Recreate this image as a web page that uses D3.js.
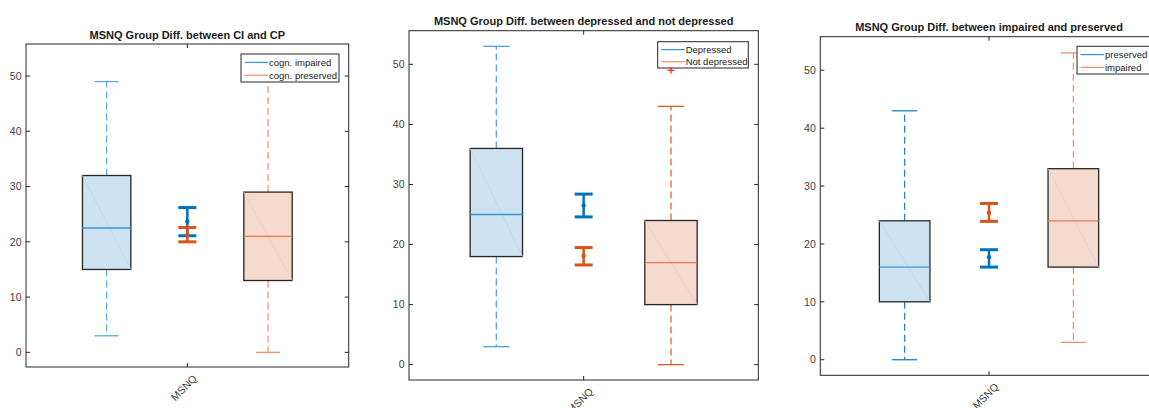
<!DOCTYPE html>
<html>
<head>
<meta charset="utf-8">
<script src="https://cdn.jsdelivr.net/npm/d3@7"></script>
<style>
  body { margin: 0; background: #fff; }
  text { font-family: "Liberation Sans", Arial, sans-serif; }
</style>
</head>
<body>
<div id="chart"></div>
<script>
// values
const titles = [
  "MSNQ Group Diff. between CI and CP",
  "MSNQ Group Diff. between depressed and not depressed",
  "MSNQ Group Diff. between impaired and preserved"
];
const legendLabels = [
  ["cogn. impaired", "cogn. preserved"],
  ["Depressed", "Not depressed"],
  ["preserved", "impaired"]
];
const xLabel = "MSNQ";
const yTicks = [0, 10, 20, 30, 40, 50];

// box stats per panel: [blue group, orange group]
const q1 = [[15, 13], [18, 10], [10, 16]];
const medians = [[22.5, 21], [25, 17], [16, 24]];
const q3 = [[32, 29], [36, 24], [24, 33]];
const whiskLo = [[3, 0], [3, 0], [0, 3]];
const whiskHi = [[49, 50], [53, 43], [43, 53]];
const outliers = [[[], []], [[], [49]], [[], []]];

// mean +/- CI error bars
const ciMean = [[23.7, 21.3], [26.5, 18.1], [17.7, 25.4]];
const ciLo = [[21.1, 20.0], [24.6, 16.6], [16.0, 23.9]];
const ciHi = [[26.2, 22.6], [28.4, 19.5], [19.0, 27.0]];

// layout of the three axes (pixels) and their y limits
const panels = [
  { left: 26, right: 348.7, top: 44, bottom: 367, ymin: -2.65, ymax: 55.8, titleY: 39,
    legend: { x: 241, y: 54, w: 98, h: 28 } },
  { left: 409, right: 758.3, top: 30.7, bottom: 380, ymin: -2.55, ymax: 55.6, titleY: 25,
    legend: { x: 657.7, y: 41.7, w: 90.6, h: 26.3 } },
  { left: 820.3, right: 1157.7, top: 36.7, bottom: 375.3, ymin: -2.69, ymax: 55.8, titleY: 31,
    legend: { x: 1077, y: 46.3, w: 76, h: 27.7 } }
];

const fillCol = ["#cce2f1", "#f6dace"];
const medCol = ["#3b96d6", "#e8794e"];
const legCol = ["#3592d6", "#ee8d6a"];
const barCol = ["#0072bd", "#d95319"];
const whiskCol = [
  ["#5aa8dd", "#ee8f6c"],
  ["#4aa2de", "#d95a22"],
  ["#1f7cc2", "#ee8f6c"]
];
const axisCol = "#262626";

const svg = d3.select("#chart")
  .append("svg")
  .attr("width", 1149)
  .attr("height", 408);

panels.forEach((p, i) => {
  let g = svg.append("g");

  let x = d3.scaleLinear().domain([0, 4]).range([p.left, p.right]);
  let y = d3.scaleLinear().domain([p.ymin, p.ymax]).range([p.bottom, p.top]);
  let pos = [1, 3];
  let boxW = x(0.6) - x(0);
  let capW = x(0.3) - x(0);

  // boxes
  [0, 1].forEach(k => {
    let cx = x(pos[k]);
    // whiskers
    g.append("line")
      .attr("x1", cx).attr("x2", cx)
      .attr("y1", y(q3[i][k])).attr("y2", y(whiskHi[i][k]))
      .attr("stroke", whiskCol[i][k]).attr("stroke-width", 1.2)
      .attr("stroke-dasharray", "7,4");
    g.append("line")
      .attr("x1", cx).attr("x2", cx)
      .attr("y1", y(q1[i][k])).attr("y2", y(whiskLo[i][k]))
      .attr("stroke", whiskCol[i][k]).attr("stroke-width", 1.2)
      .attr("stroke-dasharray", "7,4");
    [whiskHi[i][k], whiskLo[i][k]].forEach(v => {
      g.append("line")
        .attr("x1", cx - capW / 2).attr("x2", cx + capW / 2)
        .attr("y1", y(v)).attr("y2", y(v))
        .attr("stroke", whiskCol[i][k]).attr("stroke-width", 1.3);
    });

    g.append("rect")
      .attr("x", cx - boxW / 2)
      .attr("y", y(q3[i][k]))
      .attr("width", boxW)
      .attr("height", y(q1[i][k]) - y(q3[i][k]))
      .attr("fill", fillCol[k])
      .attr("stroke", axisCol)
      .attr("stroke-width", 1.3);

    // faint diagonal from the patch
    g.append("line")
      .attr("x1", cx - boxW / 2).attr("y1", y(q3[i][k]))
      .attr("x2", cx + boxW / 2).attr("y2", y(q1[i][k]))
      .attr("stroke", k == 0 ? "#bcd7ec" : "#eecfc2")
      .attr("stroke-width", 0.8);

    g.append("line")
      .attr("x1", cx - boxW / 2).attr("x2", cx + boxW / 2)
      .attr("y1", y(medians[i][k])).attr("y2", y(medians[i][k]))
      .attr("stroke", medCol[k]).attr("stroke-width", 1.3);

    outliers[i][k].forEach(v => {
      g.append("path")
        .attr("d", `M${cx - 3.5},${y(v)}H${cx + 3.5}M${cx},${y(v) - 3.5}V${y(v) + 3.5}`)
        .attr("stroke", "#ff2020").attr("stroke-width", 1.2);
    });
  });

  // error bars of the means
  [0, 1].forEach(k => {
    let cx = x(2);
    let col = barCol[k];
    g.append("line")
      .attr("x1", cx).attr("x2", cx)
      .attr("y1", y(ciLo[i][k])).attr("y2", y(ciHi[i][k]))
      .attr("stroke", col).attr("stroke-width", 2.5);
    [ciLo[i][k], ciHi[i][k]].forEach(v => {
      g.append("line")
        .attr("x1", cx - 9).attr("x2", cx + 9)
        .attr("y1", y(v)).attr("y2", y(v))
        .attr("stroke", col).attr("stroke-width", 3);
    });
    g.append("circle")
      .attr("cx", cx).attr("cy", y(ciMean[i][k]))
      .attr("r", 2.2)
      .attr("fill", col);
  });

  // axes frame and ticks
  g.append("rect")
    .attr("x", p.left).attr("y", p.top)
    .attr("width", p.right - p.left).attr("height", p.bottom - p.top)
    .attr("fill", "none")
    .attr("stroke", axisCol)
    .attr("stroke-width", 1);

  yTicks.forEach(t => {
    g.append("line")
      .attr("x1", p.left).attr("x2", p.left + 4)
      .attr("y1", y(t)).attr("y2", y(t))
      .attr("stroke", axisCol);
    g.append("line")
      .attr("x1", p.right).attr("x2", p.right - 4)
      .attr("y1", y(t)).attr("y2", y(t))
      .attr("stroke", axisCol);
    g.append("text")
      .attr("x", p.left - 4.5)
      .attr("y", y(t))
      .attr("dy", "0.35em")
      .attr("text-anchor", "end")
      .attr("font-size", 10.5)
      .attr("fill", "#404040")
      .text(t);
  });

  g.append("line")
    .attr("x1", x(2)).attr("x2", x(2))
    .attr("y1", p.bottom).attr("y2", p.bottom - 4)
    .attr("stroke", axisCol);
  g.append("line")
    .attr("x1", x(2)).attr("x2", x(2))
    .attr("y1", p.top).attr("y2", p.top + 4)
    .attr("stroke", axisCol);

  g.append("text")
    .attr("transform", `translate(${x(2) + 5},${p.bottom + 7}) rotate(-45)`)
    .attr("text-anchor", "end")
    .attr("dy", "0.7em")
    .attr("font-size", 10.5)
    .attr("fill", "#404040")
    .text(xLabel);

  g.append("text")
    .attr("x", x(2))
    .attr("y", p.titleY)
    .attr("text-anchor", "middle")
    .attr("font-size", 11)
    .attr("font-weight", "bold")
    .attr("fill", "#1a1a1a")
    .text(titles[i]);

  // legend
  let L = p.legend;
  let lg = g.append("g");
  lg.append("rect")
    .attr("x", L.x).attr("y", L.y)
    .attr("width", L.w).attr("height", L.h)
    .attr("fill", "#fff")
    .attr("stroke", axisCol)
    .attr("stroke-width", 1);
  legendLabels[i].forEach((lab, k) => {
    let ly = L.y + L.h * (k == 0 ? 0.3 : 0.76);
    lg.append("line")
      .attr("x1", L.x + 3.5).attr("x2", L.x + 27)
      .attr("y1", ly).attr("y2", ly)
      .attr("stroke", legCol[k]).attr("stroke-width", 1.2);
    lg.append("text")
      .attr("x", L.x + 28)
      .attr("y", ly)
      .attr("dy", "0.35em")
      .attr("font-size", 9.5)
      .attr("fill", "#1a1a1a")
      .text(lab);
  });
});
</script>
</body>
</html>
